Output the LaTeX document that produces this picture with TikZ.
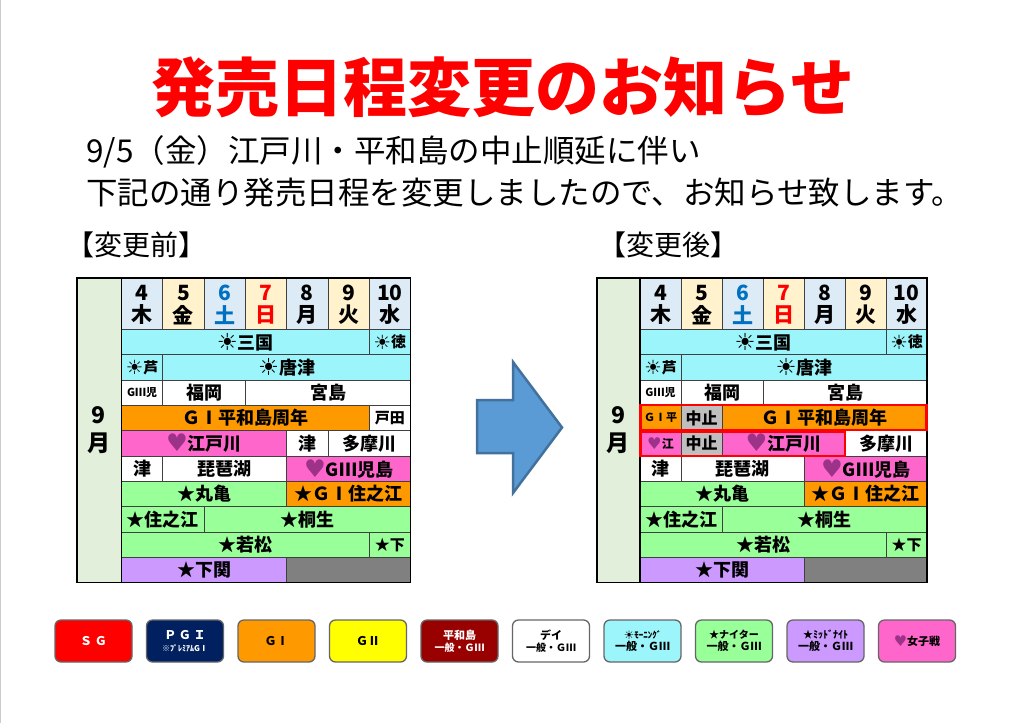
\documentclass[tikz,border=0pt]{standalone}
\usepackage{fontspec}
\usepackage{graphicx}
\setmainfont{Noto Sans CJK JP}
\newfontfamily\sym{DejaVu Sans}
\definecolor{cy}{HTML}{9CF5FA}
\definecolor{gr}{HTML}{99FF99}
\definecolor{or}{HTML}{FF9900}
\definecolor{pk}{HTML}{FF66CC}
\definecolor{pu}{HTML}{CC99FF}
\definecolor{gy}{HTML}{808080}
\definecolor{zs}{HTML}{BFBFBF}
\definecolor{hb}{HTML}{DDEBF7}
\definecolor{hc}{HTML}{FFF2CC}
\definecolor{mon}{HTML}{E2EFDA}
\definecolor{satb}{HTML}{0070C0}
\definecolor{heartc}{HTML}{9C3388}
\definecolor{navy}{HTML}{002060}
\definecolor{dred}{HTML}{990000}
\definecolor{yel}{HTML}{FFFF00}
\definecolor{arrf}{HTML}{5B9BD5}
\definecolor{arrd}{HTML}{41719C}
\newcommand\fs[1]{\fontsize{#1}{#1}\selectfont}
\newcommand\sun{{\sym\raisebox{-0.08em}{\scalebox{1.3}{☀}}}}
\newcommand\hrt{{\sym\color{heartc}\raisebox{-0.06em}{\scalebox{1.35}{♥}}}}
\newcounter{cellno}
\newcommand\gcell[7]{%
  \pgfmathsetmacro\xa{#1+#3*#2}%
  \pgfmathsetmacro\xb{#1+(#4+1)*#2}%
  \pgfmathsetmacro\ya{329.5+(#5-1)*25.3}%
  \pgfmathsetmacro\yb{\ya+25.3}%
  \stepcounter{cellno}%
  \draw[cellline, fill=#6] (\xa,\ya) rectangle (\xb,\yb);%
  \node[celltext] (cell\thecellno) at ({(\xa+\xb)/2},{(\ya+\yb)/2}) {#7};%
}
\newcommand\lc{\gcell{121.5}{41.3}}
\newcommand\rc{\gcell{640}{41}}
\newcommand\header[3]{%
  \foreach \i/\d/\w/\c/\f in {0/4/木/black/hb,1/5/金/black/hc,2/6/土/satb/hb,3/7/日/red/hc,4/8/月/black/hb,5/9/火/black/hc,6/10/水/black/hb}{%
    \pgfmathsetmacro\xa{#1+\i*#2}%
    \pgfmathsetmacro\xb{#1+(\i+1)*#2}%
    \draw[cellline, fill=\f] (\xa,278) rectangle (\xb,329.5);
    \node[celltext, text=\c, font=\bfseries\fs{21}] (#3d\i) at ({(\xa+\xb)/2},293) {\d};
    \node[celltext, text=\c, font=\bfseries\fs{21}] (#3w\i) at ({(\xa+\xb)/2},315) {\w};
  }%
}
\newcommand\legend[4]{%
  \pgfmathsetmacro\lx{55+91.5*#1}%
  \draw[legbox, fill=#2] (\lx,620) rectangle ++(77,42);
  \node[align=center, text=#3, font=\bfseries, inner sep=0pt] (leg#1) at ({\lx+38.5},641) {#4};
}
\begin{document}
\begin{tikzpicture}[x=1pt,y=-1pt,
  cellline/.style={draw=black!75, line width=0.7pt},
  celltext/.style={inner sep=0pt, font=\bfseries},
  frame/.style={draw=black, line width=1.6pt},
  legbox/.style={draw=black!60, line width=1.3pt, rounded corners=6pt},
  redbox/.style={draw=red, line width=2.4pt}]
\useasboundingbox (0,0) rectangle (1024,723);
\fill[white] (0,0) rectangle (1024,723);
\draw[black!20, line width=1pt] (0.5,0) -- (0.5,723);

% title and text
\node[text=red, font=\bfseries\fs{64}, inner sep=0pt] (title) at (503,87) {発売日程変更のお知らせ};
\node[anchor=west, font=\fs{31.5}, inner sep=0pt] (line1) at (86,152) {9/5（金）江戸川・平和島の中止順延に伴い};
\node[anchor=west, font=\fs{31.5}, inner sep=0pt] (line2) at (86,193) {下記の通り発売日程を変更しましたので、お知らせ致します。};
\node[anchor=west, font=\fs{28}, inner sep=0pt] (before) at (66,245) {【変更前】};
\node[anchor=west, font=\fs{28}, inner sep=0pt] (after) at (598,245) {【変更後】};

% ===== left table =====
\draw[cellline, fill=mon] (77,278) rectangle (121.5,582.5);
\node[celltext, font=\bfseries\fs{23}] (Lm9) at (99,415) {9};
\node[celltext, font=\bfseries\fs{23}] (Lmm) at (99,443) {月};
\header{121.5}{41.3}{L}
\lc{0}{5}{1}{cy}{\fs{18}\sun 三国}
\lc{6}{6}{1}{cy}{\fs{15}\sun 徳}
\lc{0}{0}{2}{cy}{\fs{15}\sun 芦}
\lc{1}{6}{2}{cy}{\fs{18}\sun 唐津}
\lc{0}{0}{3}{white}{\fs{11}GⅢ児}
\lc{1}{2}{3}{white}{\fs{18}福岡}
\lc{3}{6}{3}{white}{\fs{18}宮島}
\lc{0}{5}{4}{or}{\fs{18}ＧⅠ平和島周年}
\lc{6}{6}{4}{white}{\fs{15}戸田}
\lc{0}{3}{5}{pk}{\fs{18}\hrt 江戸川}
\lc{4}{4}{5}{white}{\fs{18}津}
\lc{5}{6}{5}{white}{\fs{18}多摩川}
\lc{0}{0}{6}{white}{\fs{18}津}
\lc{1}{3}{6}{white}{\fs{18}琵琶湖}
\lc{4}{6}{6}{pk}{\fs{18}\hrt GⅢ児島}
\lc{0}{3}{7}{gr}{\fs{18}★丸亀}
\lc{4}{6}{7}{or}{\fs{18}★ＧⅠ住之江}
\lc{0}{1}{8}{gr}{\fs{18}★住之江}
\lc{2}{6}{8}{gr}{\fs{18}★桐生}
\lc{0}{5}{9}{gr}{\fs{18}★若松}
\lc{6}{6}{9}{gr}{\fs{15}★下}
\lc{0}{3}{10}{pu}{\fs{18}★下関}
\lc{4}{6}{10}{gy}{}
\draw[frame] (77,278) rectangle (410.6,582.5);
\draw[line width=1.6pt] (121.5,278) -- (121.5,582.5);

% ===== arrow =====
\draw[draw=arrd, fill=arrf, line width=2.5pt, line join=miter]
  (477,400) -- (513,400) -- (513,362) -- (562,427.5) -- (513,493) -- (513,453) -- (477,453) -- cycle;

% ===== right table =====
\draw[cellline, fill=mon] (597,278) rectangle (640,582.5);
\node[celltext, font=\bfseries\fs{23}] (Rm9) at (618,415) {9};
\node[celltext, font=\bfseries\fs{23}] (Rmm) at (618,443) {月};
\header{640}{41}{R}
\rc{0}{5}{1}{cy}{\fs{18}\sun 三国}
\rc{6}{6}{1}{cy}{\fs{15}\sun 徳}
\rc{0}{0}{2}{cy}{\fs{15}\sun 芦}
\rc{1}{6}{2}{cy}{\fs{18}\sun 唐津}
\rc{0}{0}{3}{white}{\fs{11}GⅢ児}
\rc{1}{2}{3}{white}{\fs{18}福岡}
\rc{3}{6}{3}{white}{\fs{18}宮島}
\rc{0}{0}{4}{or}{\fs{11}ＧⅠ平}
\rc{1}{1}{4}{zs}{\fs{16}中止}
\rc{2}{6}{4}{or}{\fs{18}ＧⅠ平和島周年}
\rc{0}{0}{5}{pk}{\fs{12}\hrt 江}
\rc{1}{1}{5}{zs}{\fs{16}中止}
\rc{2}{4}{5}{pk}{\fs{18}\hrt 江戸川}
\rc{5}{6}{5}{white}{\fs{18}多摩川}
\rc{0}{0}{6}{white}{\fs{18}津}
\rc{1}{3}{6}{white}{\fs{18}琵琶湖}
\rc{4}{6}{6}{pk}{\fs{18}\hrt GⅢ児島}
\rc{0}{3}{7}{gr}{\fs{18}★丸亀}
\rc{4}{6}{7}{or}{\fs{18}★ＧⅠ住之江}
\rc{0}{1}{8}{gr}{\fs{18}★住之江}
\rc{2}{6}{8}{gr}{\fs{18}★桐生}
\rc{0}{5}{9}{gr}{\fs{18}★若松}
\rc{6}{6}{9}{gr}{\fs{15}★下}
\rc{0}{3}{10}{pu}{\fs{18}★下関}
\rc{4}{6}{10}{gy}{}
\draw[frame] (597,278) rectangle (927,582.5);
\draw[line width=1.6pt] (640,278) -- (640,582.5);
\draw[redbox] (640.5,405.2) rectangle (926.5,430.2);
\draw[redbox] (640.5,431.8) rectangle (845,456.2);

% ===== legend =====
\legend{0}{red}{white}{\fs{12}Ｓ Ｇ}
\legend{1}{navy}{white}{\fontsize{12}{15}\selectfont Ｐ Ｇ Ｉ\\\fontsize{8}{15}\selectfont ※ﾌﾟﾚﾐｱﾑGⅠ}
\legend{2}{or}{black}{\fs{12}ＧⅠ}
\legend{3}{yel}{black}{\fs{12}ＧⅡ}
\legend{4}{dred}{white}{\fontsize{11}{16}\selectfont 平和島\\一般・ＧⅢ}
\legend{5}{white}{black}{\fontsize{11}{16}\selectfont デイ\\一般・ＧⅢ}
\legend{6}{cy}{black}{\fontsize{9}{16}\selectfont\sun ﾓｰﾆﾝｸﾞ\\\fontsize{11}{16}\selectfont 一般・ＧⅢ}
\legend{7}{gr}{black}{\fontsize{10}{16}\selectfont ★ナイター\\\fontsize{11}{16}\selectfont 一般・ＧⅢ}
\legend{8}{pu}{black}{\fontsize{10}{16}\selectfont ★ﾐｯﾄﾞﾅｲﾄ\\\fontsize{11}{16}\selectfont 一般・ＧⅢ}
\legend{9}{pk}{black}{\fs{11}\hrt 女子戦}
\end{tikzpicture}
\end{document}
